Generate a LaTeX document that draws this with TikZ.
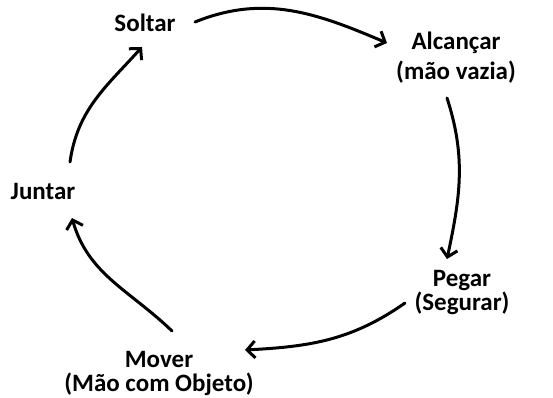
\documentclass[tikz,border=0pt]{standalone}
\usepackage{fontspec}
\setmainfont{Carlito}
\usetikzlibrary{arrows.meta}
\tikzset{
  lbl/.style={inner sep=0pt, anchor=base, align=center,
    font=\bfseries\fontsize{25}{30}\selectfont},
  arr/.style={line width=3pt, line cap=round, -{Straight Barb[length=8pt,width=17pt,line join=miter]}},
}
\begin{document}
\begin{tikzpicture}[x=1pt,y=1pt]
\useasboundingbox (0,0) rectangle (553,397);
\node[lbl] (sol) at (145,365) {Soltar};
\node[lbl] (alc) at (456,317) {Alcançar\\(mão vazia)};
\node[lbl] (peg) at (462,87) {Pegar\\[-6pt](Segurar)};
\node[lbl] (mov) at (159,6) {Mover\\[-6pt](Mão com Objeto)};
\node[lbl] (jun) at (43,198) {Juntar};
\draw[arr] ([shift={(50,10)}]sol.base) to[out=22,in=157] ([shift={(-69,37)}]alc.base);
\draw[arr] ([shift={(-9,-18)}]alc.base) to[out=-72,in=78] ([shift={(-15,51)}]peg.base);
\draw[arr] ([shift={(-57,7)}]peg.base) to[out=215,in=3] ([shift={(86,41)}]mov.base);
\draw[arr] ([shift={(13,60)}]mov.base) to[out=136,in=-74] ([shift={(29,-19)}]jun.base);
\draw[arr] ([shift={(27,37)}]jun.base) to[out=82,in=-132] ([shift={(-3,-15)}]sol.base);
\end{tikzpicture}
\end{document}
